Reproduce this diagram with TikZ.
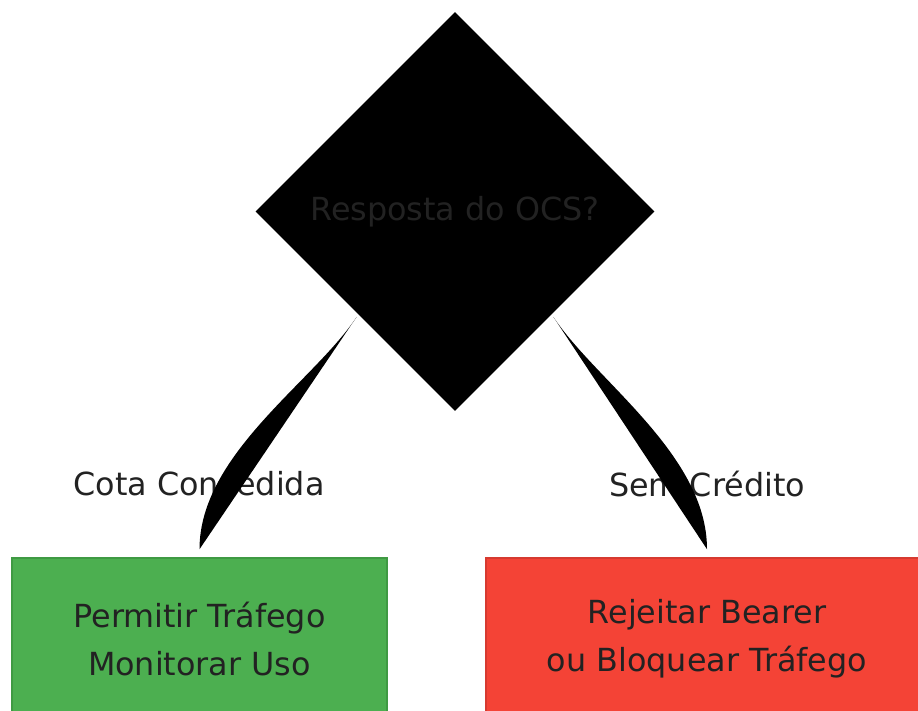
\documentclass[tikz,border=0pt]{standalone}
\usepackage{fontspec}
\setmainfont{DejaVu Sans}
\usetikzlibrary{shapes.geometric}
\usetikzlibrary{positioning}
\definecolor{inkgray}{HTML}{222222}
\definecolor{grantfill}{HTML}{4CAF50}
\definecolor{grantline}{HTML}{3F9A43}
\definecolor{denyfill}{HTML}{F44336}
\definecolor{denyline}{HTML}{D63A30}
\tikzset{
    % Dark text, as large as in the reference
    big text/.style={font=\fontsize{31.8}{47.6}\selectfont, text=inkgray},
%
    % The black decision diamond
    decision/.style={
        diamond, fill=black, inner sep=0,
        minimum width=399pt, minimum height=399pt, big text},
%
    % Boxes for the two outcomes
    outcome/.style={
        rectangle, draw, line width=1.5pt, align=center,
        minimum height=162pt, big text},
    grant fill/.style={fill=grantfill, draw=grantline},
    deny fill/.style={fill=denyfill, draw=denyline},
%
    % Filled curved connectors
    blade/.style={fill=black, draw=none}}

\begin{document}
\begin{tikzpicture}[x=1pt, y=-1pt]

\useasboundingbox (0,0) rectangle (918,711);

% Decision and outcomes

\node [decision] (ocs) at (455,211.5) {Resposta do OCS?};

\node [outcome, grant fill, minimum width=375pt] (grant) at (199.5,639)
    {Permitir Tráfego\\Monitorar Uso};
\node [outcome, deny fill, minimum width=442pt] (deny) at (707,639)
    {Rejeitar Bearer\\ou Bloquear Tráfego};

\node [big text] (grantlabel) at (199,484) {Cota Concedida};
\node [big text] (denylabel) at (707,484) {Sem Crédito};

\coordinate (grantout) at ([shift={(1.5,5.5)}]ocs.south west);
\coordinate (denyout) at ([shift={(-1.5,5.5)}]ocs.south east);
\coordinate (grantin) at ([yshift=8pt]grant.north);
\coordinate (denyin) at ([yshift=8pt]deny.north);

\path [blade] (grantout)
    .. controls +(-42,64) and +(0,-95) .. (grantin) -- cycle;
\path [blade] (denyout)
    .. controls +(42,64) and +(0,-95) .. (denyin) -- cycle;

\end{tikzpicture}
\end{document}
